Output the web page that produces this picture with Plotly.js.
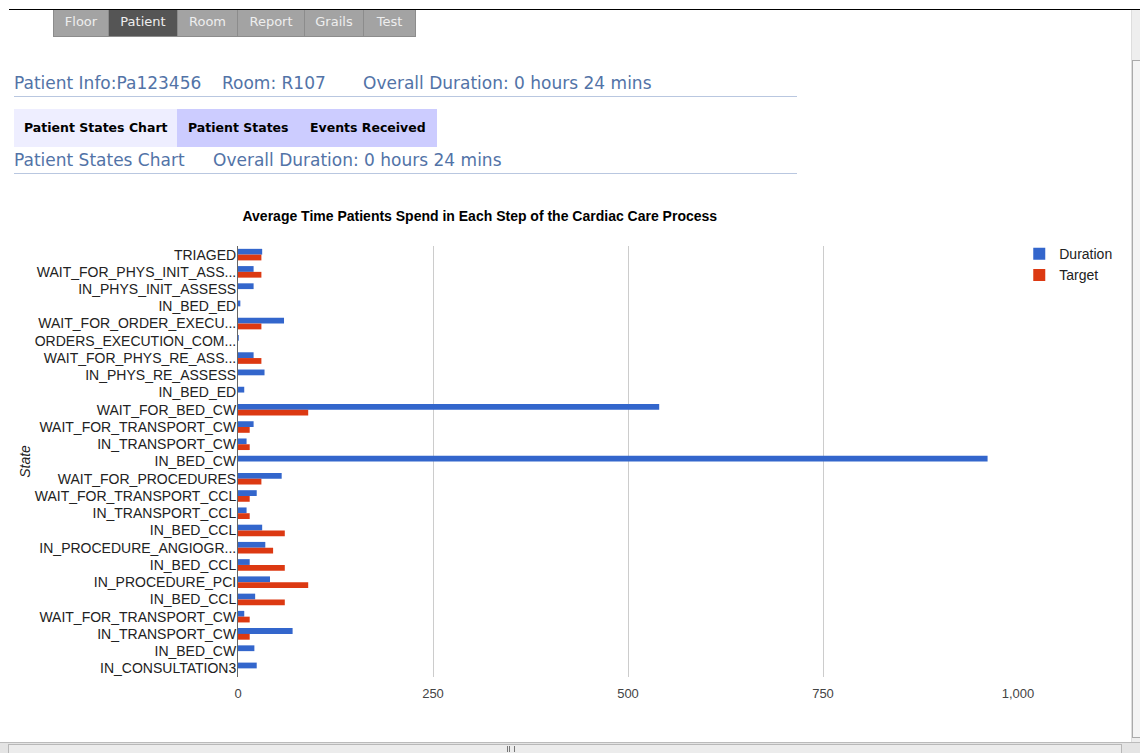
<!DOCTYPE html>
<html>
<head>
<meta charset="utf-8">
<script src="https://cdn.plot.ly/plotly-3.0.1.min.js"></script>
<style>
  html, body { margin:0; padding:0; width:1140px; height:753px; overflow:hidden; background:#fff; font-family:"DejaVu Sans", Verdana, sans-serif; }
  .abs { position:absolute; white-space:nowrap; }
  .nav { position:absolute; top:10px; height:27px; line-height:24px; background:#a3a3a3; color:#eeeeee; font-size:13px; text-align:center; box-sizing:border-box; border:1px solid #8c8c8c; border-top:none; }
  .info { position:absolute; font-size:17px; color:#5273a7; line-height:20px; }
  .tab { position:absolute; font-size:12.5px; font-weight:bold; color:#000; line-height:16px; }
</style>
</head>
<body>
<div class="abs" style="left:9px;top:9px;width:1131px;height:1px;background:#000;"></div>
<div class="nav" style="left:53px;width:56px;">Floor</div>
<div class="nav" style="left:108px;width:70px;background:#555;">Patient</div>
<div class="nav" style="left:177px;width:61px;">Room</div>
<div class="nav" style="left:237px;width:68px;">Report</div>
<div class="nav" style="left:304px;width:60px;">Grails</div>
<div class="nav" style="left:363px;width:53px;">Test</div>

<div class="info" style="left:14px;top:73px;">Patient Info:Pa123456</div>
<div class="info" style="left:222px;top:73px;">Room: R107</div>
<div class="info" style="left:363px;top:73px;">Overall Duration: 0 hours 24 mins</div>
<div class="abs" style="left:14px;top:96px;width:783px;height:1px;background:#b9c7e0;"></div>

<div class="abs" style="left:14px;top:109px;width:163px;height:38px;background:#eeeeff;"></div>
<div class="abs" style="left:177px;top:109px;width:260px;height:38px;background:#ccccff;"></div>
<div class="tab" style="left:24px;top:120px;">Patient States Chart</div>
<div class="tab" style="left:188px;top:120px;">Patient States</div>
<div class="tab" style="left:310px;top:120px;">Events Received</div>

<div class="info" style="left:14px;top:150px;">Patient States Chart</div>
<div class="info" style="left:213px;top:150px;">Overall Duration: 0 hours 24 mins</div>
<div class="abs" style="left:14px;top:173px;width:783px;height:1px;background:#b9c7e0;"></div>

<div id="chart" class="abs" style="left:0;top:190px;width:1130px;height:530px;"></div>

<!-- scrollbars -->
<div class="abs" style="left:1131px;top:10px;width:9px;height:732px;background:#eeeeee;border-left:1px solid #dddddd;"></div>
<div class="abs" style="left:1132px;top:60px;width:8px;height:676px;background:#f4f4f4;border:1px solid #aaaaaa;border-right:none;"></div>
<div class="abs" style="left:0;top:742px;width:1140px;height:11px;background:#e4e4e4;border-top:1px solid #bbbbbb;"></div>
<div class="abs" style="left:8px;top:744px;width:1112px;height:9px;background:#ececec;border:1px solid #b8b8b8;border-bottom:none;"></div>
<div class="abs" style="left:507px;top:746px;width:6px;height:6px;border-left:1px solid #777;border-right:1px solid #777;"></div>
<div class="abs" style="left:509px;top:746px;width:1px;height:6px;background:#777;"></div>

<script>
const states = [
  "TRIAGED",
  "WAIT_FOR_PHYS_INIT_ASS...",
  "IN_PHYS_INIT_ASSESS",
  "IN_BED_ED",
  "WAIT_FOR_ORDER_EXECU...",
  "ORDERS_EXECUTION_COM...",
  "WAIT_FOR_PHYS_RE_ASS...",
  "IN_PHYS_RE_ASSESS",
  "IN_BED_ED",
  "WAIT_FOR_BED_CW",
  "WAIT_FOR_TRANSPORT_CW",
  "IN_TRANSPORT_CW",
  "IN_BED_CW",
  "WAIT_FOR_PROCEDURES",
  "WAIT_FOR_TRANSPORT_CCL",
  "IN_TRANSPORT_CCL",
  "IN_BED_CCL",
  "IN_PROCEDURE_ANGIOGR...",
  "IN_BED_CCL",
  "IN_PROCEDURE_PCI",
  "IN_BED_CCL",
  "WAIT_FOR_TRANSPORT_CW",
  "IN_TRANSPORT_CW",
  "IN_BED_CW",
  "IN_CONSULTATION3"
];
const duration = [31, 20, 20, 3, 59, 1, 20, 34, 8, 540, 20, 11, 961, 56, 24, 11, 31, 35, 15, 41, 22, 8, 70, 21, 24];
const target   = [30, 30, 0, 0, 30, 0, 30, 0, 0, 90, 15, 15, 0, 30, 15, 15, 60, 45, 60, 90, 60, 15, 15, 0, 0];
const xTicks = [0, 250, 500, 750, 1000];

const pos = states.map((s, i) => i);

const traces = [
  { type:'bar', orientation:'h', name:'Duration', x:duration, y:pos, marker:{color:'#3366cc'}, hoverinfo:'x' },
  { type:'bar', orientation:'h', name:'Target', x:target, y:pos, marker:{color:'#dc3912'}, hoverinfo:'x' }
];

const layout = {
  width:1130, height:530,
  margin:{l:238, r:112, t:56, b:43},
  paper_bgcolor:'rgba(0,0,0,0)', plot_bgcolor:'rgba(0,0,0,0)',
  barmode:'group', bargap:0.33, bargroupgap:0,
  font:{family:'"Liberation Sans", Arial, sans-serif', size:14, color:'#222'},
  title:{text:'<b>Average Time Patients Spend in Each Step of the Cardiac Care Process</b>',
         font:{family:'"Liberation Sans", Arial, sans-serif', size:14, color:'#000'},
         xref:'paper', x:0.31, xanchor:'center', yref:'container', y:0.951, yanchor:'middle'},
  xaxis:{range:[0,1000], tickvals:xTicks, tickformat:',d', showgrid:true, gridcolor:'#cccccc', gridwidth:1,
         zeroline:false, showline:false, ticks:'', ticklabelstandoff:7,
         tickfont:{family:'"Liberation Sans Narrow", "Liberation Sans", sans-serif', size:13, color:'#444'},
         fixedrange:true},
  yaxis:{range:[pos.length - 0.5, -0.5], tickvals:pos, ticktext:states, showgrid:false, zeroline:false,
         showline:true, linecolor:'#666', linewidth:1, ticks:'', ticklabelstandoff:-2,
         tickfont:{family:'"Liberation Sans", Arial, sans-serif', size:14, color:'#222'}, fixedrange:true},
  legend:{xref:'container', yref:'container', x:0.902, y:0.909, xanchor:'left', yanchor:'top',
          font:{size:14, color:'#222'}, tracegroupgap:0},
  annotations:[{text:'<i>State</i>', xref:'paper', yref:'paper', x:-0.274, y:0.5, textangle:-90, showarrow:false,
                font:{family:'"Liberation Sans", Arial, sans-serif', size:14, color:'#222'}, xanchor:'center', yanchor:'middle'}],
  showlegend:true
};

Plotly.newPlot('chart', traces, layout, {displayModeBar:false, staticPlot:true});
</script>
</body>
</html>
